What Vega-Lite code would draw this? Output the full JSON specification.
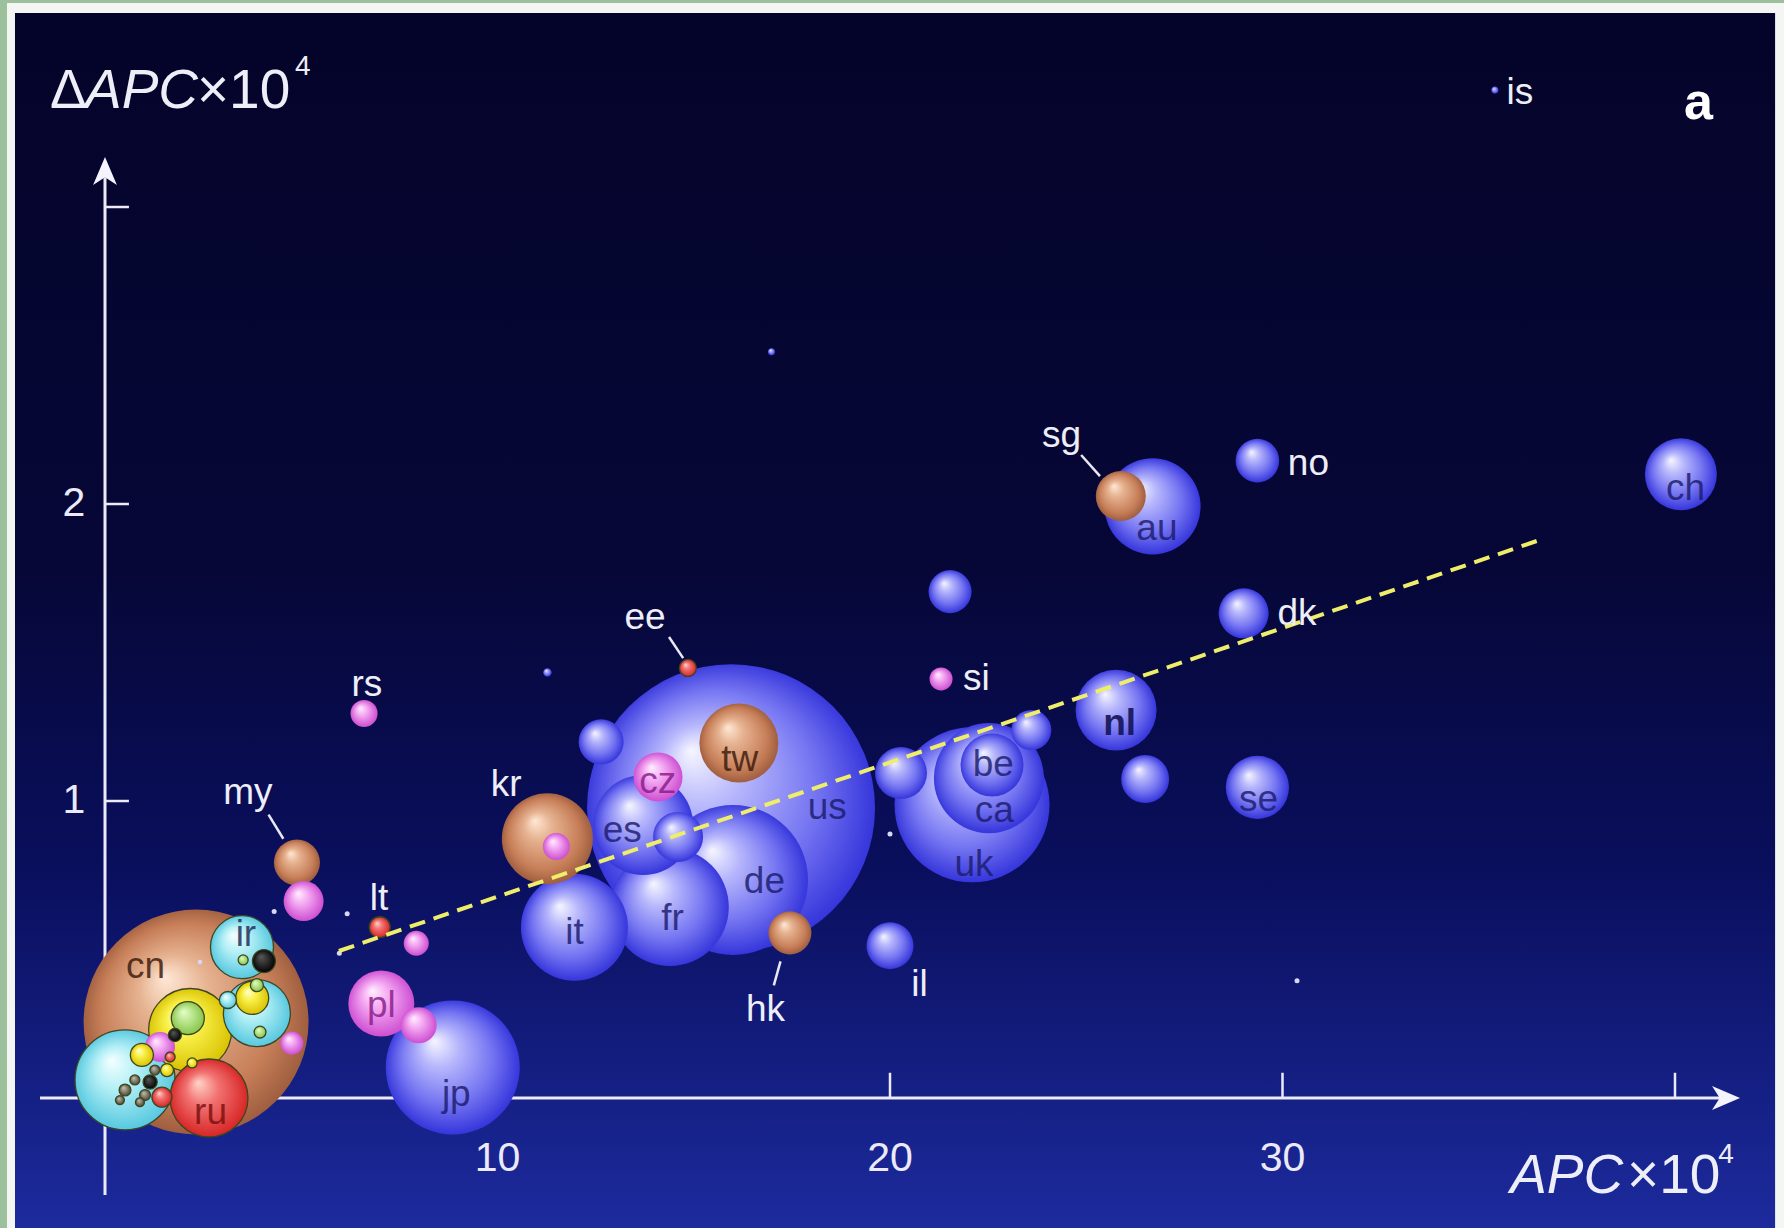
{
  "$schema": "https://vega.github.io/schema/vega-lite/v6.json",
  "width": 1784,
  "height": 1228,
  "autosize": {"type": "none"},
  "padding": 0,
  "background": "#9dc09c",
  "config": {"view": {"stroke": null}, "font": "Liberation Sans"},
  "datasets": {
    "bubbles": [
      {"c": "us", "g": "blue", "x": 15.95, "y": 0.976, "weight": 829.4},
      {"c": "uk", "g": "blue", "x": 22.09, "y": 0.987, "weight": 240.3},
      {"c": "de", "g": "blue", "x": 16.0, "y": 0.734, "weight": 225},
      {"c": "fr", "g": "blue", "x": 14.39, "y": 0.643, "weight": 139.2},
      {"c": "ca", "g": "blue", "x": 22.52, "y": 1.077, "weight": 121},
      {"c": "it", "g": "blue", "x": 11.96, "y": 0.575, "weight": 114.5},
      {"c": "jp", "g": "blue", "x": 8.86, "y": 0.103, "weight": 179.6},
      {"c": "es", "g": "blue", "x": 13.71, "y": 0.919, "weight": 100},
      {"c": "au", "g": "blue", "x": 26.69, "y": 1.992, "weight": 92.2},
      {"c": "nl", "g": "blue", "x": 25.76, "y": 1.306, "weight": 65.6},
      {"c": "ch", "g": "blue", "x": 40.15, "y": 2.1, "weight": 51.8},
      {"c": "be", "g": "blue", "x": 22.6, "y": 1.121, "weight": 39.7},
      {"c": "se", "g": "blue", "x": 29.36, "y": 1.046, "weight": 40},
      {"c": "", "g": "blue", "x": 20.28, "y": 1.094, "weight": 27},
      {"c": "dk", "g": "blue", "x": 29.01, "y": 1.632, "weight": 25},
      {"c": "", "g": "blue", "x": 14.6, "y": 0.879, "weight": 25},
      {"c": "", "g": "blue", "x": 26.5, "y": 1.074, "weight": 23},
      {"c": "no", "g": "blue", "x": 29.36, "y": 2.146, "weight": 19},
      {"c": "", "g": "blue", "x": 12.64, "y": 1.199, "weight": 20.3},
      {"c": "", "g": "blue", "x": 21.53, "y": 1.705, "weight": 18.5},
      {"c": "il", "g": "blue", "x": 20.0, "y": 0.513, "weight": 22.1},
      {"c": "", "g": "blue", "x": 23.6, "y": 1.239, "weight": 16},
      {"c": "", "g": "blue", "x": 11.27, "y": 1.433, "weight": 0.7},
      {"c": "", "g": "blue", "x": 16.98, "y": 2.513, "weight": 0.49},
      {"c": "is", "g": "blue", "x": 35.41, "y": 3.394, "weight": 0.49},
      {"c": "cn", "g": "brown", "x": 2.32, "y": 0.256, "weight": 506},
      {"c": "kr", "g": "brown", "x": 11.27, "y": 0.873, "weight": 82.8},
      {"c": "tw", "g": "brown", "x": 16.15, "y": 1.195, "weight": 62.4},
      {"c": "sg", "g": "brown", "x": 25.88, "y": 2.027, "weight": 25},
      {"c": "my", "g": "brown", "x": 4.89, "y": 0.793, "weight": 21.2},
      {"c": "hk", "g": "brown", "x": 17.45, "y": 0.556, "weight": 18.5},
      {"c": "pl", "g": "pink", "x": 7.04, "y": 0.318, "weight": 43.6},
      {"c": "", "g": "pink", "x": 7.99, "y": 0.245, "weight": 13},
      {"c": "cz", "g": "pink", "x": 14.09, "y": 1.081, "weight": 24},
      {"c": "", "g": "pink", "x": 5.06, "y": 0.663, "weight": 16},
      {"c": "rs", "g": "pink", "x": 6.6, "y": 1.295, "weight": 7.3},
      {"c": "si", "g": "pink", "x": 21.3, "y": 1.411, "weight": 5.3},
      {"c": "", "g": "pink", "x": 7.93, "y": 0.521, "weight": 6.25},
      {"c": "", "g": "pink", "x": 11.5, "y": 0.847, "weight": 7.3},
      {"c": "", "g": "pink", "x": 4.76, "y": 0.185, "weight": 5.3},
      {"c": "", "g": "pink", "x": 1.4, "y": 0.172, "weight": 9},
      {"c": "ru", "g": "red", "x": 2.65, "y": 0.0, "weight": 60.8},
      {"c": "ee", "g": "red", "x": 14.85, "y": 1.448, "weight": 2.9},
      {"c": "lt", "g": "red", "x": 7.0, "y": 0.575, "weight": 4.4},
      {"c": "", "g": "red", "x": 1.45, "y": 0.003, "weight": 4},
      {"c": "", "g": "red", "x": 1.66, "y": 0.138, "weight": 1},
      {"c": "", "g": "cyan", "x": 0.51, "y": 0.061, "weight": 100},
      {"c": "", "g": "cyan", "x": 3.87, "y": 0.286, "weight": 44.9},
      {"c": "ir", "g": "cyan", "x": 3.49, "y": 0.508, "weight": 39.7},
      {"c": "", "g": "cyan", "x": 3.13, "y": 0.33, "weight": 2.9},
      {"c": "", "g": "yellow", "x": 2.17, "y": 0.229, "weight": 68.9},
      {"c": "", "g": "yellow", "x": 3.75, "y": 0.337, "weight": 10.9},
      {"c": "", "g": "yellow", "x": 0.94, "y": 0.145, "weight": 5.3},
      {"c": "", "g": "yellow", "x": 1.58, "y": 0.094, "weight": 1.7},
      {"c": "", "g": "yellow", "x": 2.22, "y": 0.118, "weight": 1},
      {"c": "", "g": "green", "x": 2.11, "y": 0.269, "weight": 10.9},
      {"c": "", "g": "green", "x": 3.52, "y": 0.465, "weight": 1},
      {"c": "", "g": "green", "x": 3.87, "y": 0.38, "weight": 1.7},
      {"c": "", "g": "green", "x": 3.95, "y": 0.222, "weight": 1.4},
      {"c": "", "g": "black", "x": 4.05, "y": 0.461, "weight": 5.3},
      {"c": "", "g": "black", "x": 1.78, "y": 0.212, "weight": 1.7},
      {"c": "", "g": "black", "x": 1.15, "y": 0.054, "weight": 2},
      {"c": "", "g": "gray", "x": 0.51, "y": 0.027, "weight": 1.4},
      {"c": "", "g": "gray", "x": 0.76, "y": 0.061, "weight": 1},
      {"c": "", "g": "gray", "x": 1.02, "y": 0.01, "weight": 1.2},
      {"c": "", "g": "gray", "x": 0.38, "y": -0.007, "weight": 0.8},
      {"c": "", "g": "gray", "x": 0.89, "y": -0.014, "weight": 0.8},
      {"c": "", "g": "gray", "x": 1.27, "y": 0.094, "weight": 1},
      {"c": "", "g": "dot", "x": 4.31, "y": 0.628, "weight": 0.25},
      {"c": "", "g": "dot", "x": 6.17, "y": 0.62, "weight": 0.25},
      {"c": "", "g": "dot", "x": 5.97, "y": 0.487, "weight": 0.25},
      {"c": "", "g": "dot", "x": 20.0, "y": 0.889, "weight": 0.25},
      {"c": "", "g": "dot", "x": 30.37, "y": 0.395, "weight": 0.25},
      {"c": "", "g": "dot", "x": 2.42, "y": 0.458, "weight": 0.2}
    ],
    "labelsOut": [
      {"t": "is", "x": 36.05, "y": 3.384},
      {"t": "no", "x": 30.66, "y": 2.134},
      {"t": "dk", "x": 30.37, "y": 1.628},
      {"t": "si", "x": 22.2, "y": 1.41},
      {"t": "sg", "x": 24.37, "y": 2.23},
      {"t": "ee", "x": 13.76, "y": 1.617},
      {"t": "rs", "x": 6.67, "y": 1.39},
      {"t": "my", "x": 3.64, "y": 1.027},
      {"t": "kr", "x": 10.22, "y": 1.054},
      {"t": "lt", "x": 6.98, "y": 0.67},
      {"t": "hk", "x": 16.83, "y": 0.295},
      {"t": "il", "x": 20.75, "y": 0.379}
    ],
    "labelsIn": [
      {"t": "ch", "g": "blue", "x": 40.27, "y": 2.05},
      {"t": "au", "g": "blue", "x": 26.8, "y": 1.915},
      {"t": "nl", "g": "blue", "x": 25.85, "y": 1.26},
      {"t": "be", "g": "blue", "x": 22.63, "y": 1.122},
      {"t": "ca", "g": "blue", "x": 22.66, "y": 0.966},
      {"t": "uk", "g": "blue", "x": 22.14, "y": 0.785},
      {"t": "se", "g": "blue", "x": 29.39, "y": 1.004},
      {"t": "tw", "g": "brown", "x": 16.17, "y": 1.138},
      {"t": "cz", "g": "pink", "x": 14.08, "y": 1.065},
      {"t": "us", "g": "blue", "x": 18.4, "y": 0.977},
      {"t": "es", "g": "blue", "x": 13.18, "y": 0.9},
      {"t": "de", "g": "blue", "x": 16.8, "y": 0.728},
      {"t": "fr", "g": "blue", "x": 14.46, "y": 0.602},
      {"t": "it", "g": "blue", "x": 11.96, "y": 0.556},
      {"t": "jp", "g": "blue", "x": 8.95, "y": 0.011},
      {"t": "pl", "g": "pink", "x": 7.04, "y": 0.31},
      {"t": "ir", "g": "cyan", "x": 3.59, "y": 0.548},
      {"t": "cn", "g": "brown", "x": 1.03, "y": 0.441},
      {"t": "ru", "g": "red", "x": 2.69, "y": -0.05}
    ],
    "leaders": [
      {"x": 24.87, "y": 2.165, "x2": 25.35, "y2": 2.094},
      {"x": 14.37, "y": 1.552, "x2": 14.73, "y2": 1.481},
      {"x": 4.166, "y": 0.954, "x2": 4.543, "y2": 0.873},
      {"x": 17.21, "y": 0.46, "x2": 17.04, "y2": 0.379}
    ],
    "trend": [
      {"x": 5.96, "y": 0.495},
      {"x": 36.6, "y": 1.881}
    ],
    "xticks": [{"v": 10}, {"v": 20}, {"v": 30}, {"v": 40}],
    "yticks": [{"v": 1}, {"v": 2}, {"v": 3}],
    "titleMain": [
      {"t": "Δ", "x": -1.401, "y": 3.333, "italic": false},
      {"t": "APC", "x": -0.51, "y": 3.333, "italic": true},
      {"t": "×10", "x": 2.344, "y": 3.333, "italic": false},
      {"t": "APC", "x": 35.8, "y": -0.32, "italic": true},
      {"t": "×10", "x": 38.78, "y": -0.32, "italic": false}
    ],
    "titleSup": [
      {"t": "4", "x": 4.84, "y": 3.444},
      {"t": "4", "x": 41.1, "y": -0.219}
    ],
    "frame": [
      {"x": -2.497, "x2": 42.9, "y": 3.687, "y2": -0.5, "layer": "white"},
      {"x": -2.293, "x2": 42.55, "y": 3.653, "y2": -0.5, "layer": "panel"}
    ]
  },
  "layer": [
    {
      "data": {"name": "frame"},
      "transform": [{"filter": "datum.layer === 'white'"}],
      "mark": {"type": "rect", "color": "#f4f6f4"},
      "encoding": {
        "x": {"field": "x", "type": "quantitative", "scale": {"domain": [-2.675, 42.777], "nice": false, "zero": false}, "axis": null},
        "x2": {"field": "x2"},
        "y": {"field": "y", "type": "quantitative", "scale": {"domain": [-0.4377, 3.697], "nice": false, "zero": false}, "axis": null},
        "y2": {"field": "y2"}
      }
    },
    {
      "data": {"name": "frame"},
      "transform": [{"filter": "datum.layer === 'panel'"}],
      "mark": {"type": "rect", "color": {"gradient": "linear", "x1": 0, "y1": 0, "x2": 0, "y2": 1, "stops": [
        {"offset": 0, "color": "#04042a"},
        {"offset": 0.45, "color": "#060737"},
        {"offset": 0.7, "color": "#0a0f5e"},
        {"offset": 1, "color": "#1d2ca0"}
      ]}},
      "encoding": {
        "x": {"field": "x", "type": "quantitative", "scale": {"domain": [-2.675, 42.777], "nice": false, "zero": false}, "axis": null},
        "x2": {"field": "x2"},
        "y": {"field": "y", "type": "quantitative", "scale": {"domain": [-0.4377, 3.697], "nice": false, "zero": false}, "axis": null},
        "y2": {"field": "y2"}
      }
    },
    {
      "data": {"values": [{}]},
      "mark": {"type": "rule", "color": "#eceaf8", "strokeWidth": 3},
      "encoding": {
        "x": {"datum": -1.656, "type": "quantitative", "scale": {"domain": [-2.675, 42.777], "nice": false, "zero": false}, "axis": null},
        "x2": {"datum": 41.27},
        "y": {"datum": 0, "type": "quantitative", "scale": {"domain": [-0.4377, 3.697], "nice": false, "zero": false}, "axis": null}
      }
    },
    {
      "data": {"values": [{}]},
      "mark": {"type": "rule", "color": "#eceaf8", "strokeWidth": 3},
      "encoding": {
        "x": {"datum": 0, "type": "quantitative", "scale": {"domain": [-2.675, 42.777], "nice": false, "zero": false}, "axis": null},
        "y": {"datum": -0.327, "type": "quantitative", "scale": {"domain": [-0.4377, 3.697], "nice": false, "zero": false}, "axis": null},
        "y2": {"datum": 3.1}
      }
    },
    {
      "data": {"name": "xticks"},
      "mark": {"type": "rule", "color": "#eceaf8", "strokeWidth": 2.5},
      "encoding": {
        "x": {"field": "v", "type": "quantitative", "scale": {"domain": [-2.675, 42.777], "nice": false, "zero": false}, "axis": null},
        "y": {"datum": 0, "type": "quantitative", "scale": {"domain": [-0.4377, 3.697], "nice": false, "zero": false}, "axis": null},
        "y2": {"datum": 0.085}
      }
    },
    {
      "data": {"name": "yticks"},
      "mark": {"type": "rule", "color": "#eceaf8", "strokeWidth": 2.5},
      "encoding": {
        "y": {"field": "v", "type": "quantitative", "scale": {"domain": [-0.4377, 3.697], "nice": false, "zero": false}, "axis": null},
        "x": {"datum": 0, "type": "quantitative", "scale": {"domain": [-2.675, 42.777], "nice": false, "zero": false}, "axis": null},
        "x2": {"datum": 0.61}
      }
    },
    {
      "data": {"name": "xticks"},
      "transform": [{"filter": "datum.v < 40"}],
      "mark": {"type": "text", "color": "#eceaf8", "fontSize": 41, "align": "center", "baseline": "middle"},
      "encoding": {
        "x": {"field": "v", "type": "quantitative", "scale": {"domain": [-2.675, 42.777], "nice": false, "zero": false}, "axis": null},
        "y": {"datum": -0.205, "type": "quantitative", "scale": {"domain": [-0.4377, 3.697], "nice": false, "zero": false}, "axis": null},
        "text": {"field": "v", "type": "quantitative"}
      }
    },
    {
      "data": {"name": "yticks"},
      "transform": [{"filter": "datum.v < 3"}],
      "mark": {"type": "text", "color": "#eceaf8", "fontSize": 41, "align": "center", "baseline": "middle"},
      "encoding": {
        "y": {"field": "v", "type": "quantitative", "scale": {"domain": [-0.4377, 3.697], "nice": false, "zero": false}, "axis": null},
        "x": {"datum": -0.79, "type": "quantitative", "scale": {"domain": [-2.675, 42.777], "nice": false, "zero": false}, "axis": null},
        "text": {"field": "v", "type": "quantitative"}
      }
    },
    {
      "data": {"values": [{}]},
      "mark": {"type": "point", "filled": true, "opacity": 1, "color": "#f4f4ff", "size": 784, "shape": "M1,0L-1,-0.85L-0.45,0L-1,0.85Z"},
      "encoding": {
        "x": {"datum": 41.3, "type": "quantitative", "scale": {"domain": [-2.675, 42.777], "nice": false, "zero": false}, "axis": null},
        "y": {"datum": 0, "type": "quantitative", "scale": {"domain": [-0.4377, 3.697], "nice": false, "zero": false}, "axis": null}
      }
    },
    {
      "data": {"values": [{}]},
      "mark": {"type": "point", "filled": true, "opacity": 1, "color": "#f4f4ff", "size": 784, "shape": "M0,-1L0.85,1L0,0.45L-0.85,1Z"},
      "encoding": {
        "x": {"datum": 0, "type": "quantitative", "scale": {"domain": [-2.675, 42.777], "nice": false, "zero": false}, "axis": null},
        "y": {"datum": 3.121, "type": "quantitative", "scale": {"domain": [-0.4377, 3.697], "nice": false, "zero": false}, "axis": null}
      }
    },
    {
      "data": {"name": "leaders"},
      "mark": {"type": "rule", "color": "#e8e8f4", "strokeWidth": 2.5},
      "encoding": {
        "x": {"field": "x", "type": "quantitative", "scale": {"domain": [-2.675, 42.777], "nice": false, "zero": false}, "axis": null},
        "y": {"field": "y", "type": "quantitative", "scale": {"domain": [-0.4377, 3.697], "nice": false, "zero": false}, "axis": null},
        "x2": {"field": "x2"},
        "y2": {"field": "y2"}
      }
    },
    {
      "data": {"name": "bubbles"},
      "mark": {"type": "point", "shape": "circle", "filled": true, "opacity": 1, "strokeWidth": 1.3},
      "encoding": {
        "x": {"field": "x", "type": "quantitative", "scale": {"domain": [-2.675, 42.777], "nice": false, "zero": false}, "axis": null},
        "y": {"field": "y", "type": "quantitative", "scale": {"domain": [-0.4377, 3.697], "nice": false, "zero": false}, "axis": null},
        "size": {"field": "weight", "type": "quantitative", "scale": {"type": "linear", "domain": [0, 900], "range": [0, 90000], "zero": true}, "legend": null},
        "order": {"field": "weight", "sort": "descending"},
        "fill": {
          "condition": [
            {"test": "datum.g === 'blue'", "value": {"gradient": "radial", "x1": 0.36, "y1": 0.3, "r1": 0, "x2": 0.5, "y2": 0.5, "r2": 0.52, "stops": [
              {"offset": 0, "color": "#f6f6ff"}, {"offset": 0.28, "color": "#b6b6fc"}, {"offset": 0.65, "color": "#7676f2"}, {"offset": 1, "color": "#3030da"}]}},
            {"test": "datum.g === 'brown'", "value": {"gradient": "radial", "x1": 0.36, "y1": 0.3, "r1": 0, "x2": 0.5, "y2": 0.5, "r2": 0.52, "stops": [
              {"offset": 0, "color": "#ffe8d6"}, {"offset": 0.3, "color": "#e6b290"}, {"offset": 0.75, "color": "#c67e58"}, {"offset": 1, "color": "#9a5a3c"}]}},
            {"test": "datum.g === 'pink'", "value": {"gradient": "radial", "x1": 0.36, "y1": 0.3, "r1": 0, "x2": 0.5, "y2": 0.5, "r2": 0.52, "stops": [
              {"offset": 0, "color": "#fff0ff"}, {"offset": 0.35, "color": "#f6b0f4"}, {"offset": 1, "color": "#cc4ad0"}]}},
            {"test": "datum.g === 'cyan'", "value": {"gradient": "radial", "x1": 0.36, "y1": 0.3, "r1": 0, "x2": 0.5, "y2": 0.5, "r2": 0.52, "stops": [
              {"offset": 0, "color": "#f4ffff"}, {"offset": 0.4, "color": "#b4f0f6"}, {"offset": 1, "color": "#52c6de"}]}},
            {"test": "datum.g === 'yellow'", "value": {"gradient": "radial", "x1": 0.36, "y1": 0.3, "r1": 0, "x2": 0.5, "y2": 0.5, "r2": 0.52, "stops": [
              {"offset": 0, "color": "#ffffd8"}, {"offset": 0.4, "color": "#f8f048"}, {"offset": 1, "color": "#d8c000"}]}},
            {"test": "datum.g === 'red'", "value": {"gradient": "radial", "x1": 0.36, "y1": 0.3, "r1": 0, "x2": 0.5, "y2": 0.5, "r2": 0.52, "stops": [
              {"offset": 0, "color": "#ffd4c8"}, {"offset": 0.4, "color": "#f27272"}, {"offset": 1, "color": "#d62222"}]}},
            {"test": "datum.g === 'green'", "value": {"gradient": "radial", "x1": 0.36, "y1": 0.3, "r1": 0, "x2": 0.5, "y2": 0.5, "r2": 0.52, "stops": [
              {"offset": 0, "color": "#e6ffc8"}, {"offset": 1, "color": "#84c446"}]}},
            {"test": "datum.g === 'black'", "value": {"gradient": "radial", "x1": 0.36, "y1": 0.3, "r1": 0, "x2": 0.5, "y2": 0.5, "r2": 0.52, "stops": [
              {"offset": 0, "color": "#5a5a5a"}, {"offset": 1, "color": "#000000"}]}},
            {"test": "datum.g === 'gray'", "value": {"gradient": "radial", "x1": 0.36, "y1": 0.3, "r1": 0, "x2": 0.5, "y2": 0.5, "r2": 0.52, "stops": [
              {"offset": 0, "color": "#c8c4b0"}, {"offset": 1, "color": "#4c4434"}]}}
          ],
          "value": "#d8d8f4"
        },
        "stroke": {
          "condition": {"test": "indexof(['cyan','yellow','green','gray','black','red'], datum.g) >= 0", "value": "#3c4620"},
          "value": null
        }
      }
    },
    {
      "data": {"name": "trend"},
      "mark": {"type": "line", "color": "#efee6a", "strokeWidth": 4, "strokeDash": [16, 9]},
      "encoding": {
        "x": {"field": "x", "type": "quantitative", "scale": {"domain": [-2.675, 42.777], "nice": false, "zero": false}, "axis": null},
        "y": {"field": "y", "type": "quantitative", "scale": {"domain": [-0.4377, 3.697], "nice": false, "zero": false}, "axis": null}
      }
    },
    {
      "data": {"name": "labelsOut"},
      "mark": {"type": "text", "color": "#eeeef8", "fontSize": 37, "align": "center", "baseline": "middle"},
      "encoding": {
        "x": {"field": "x", "type": "quantitative", "scale": {"domain": [-2.675, 42.777], "nice": false, "zero": false}, "axis": null},
        "y": {"field": "y", "type": "quantitative", "scale": {"domain": [-0.4377, 3.697], "nice": false, "zero": false}, "axis": null},
        "text": {"field": "t"}
      }
    },
    {
      "data": {"name": "labelsIn"},
      "transform": [{"filter": "datum.t !== 'nl'"}],
      "mark": {"type": "text", "fontSize": 37, "align": "center", "baseline": "middle", "opacity": 0.82},
      "encoding": {
        "x": {"field": "x", "type": "quantitative", "scale": {"domain": [-2.675, 42.777], "nice": false, "zero": false}, "axis": null},
        "y": {"field": "y", "type": "quantitative", "scale": {"domain": [-0.4377, 3.697], "nice": false, "zero": false}, "axis": null},
        "text": {"field": "t"},
        "color": {"field": "g", "type": "nominal", "scale": {"domain": ["blue", "brown", "pink", "cyan", "red"], "range": ["#1c1c6e", "#3a1a0c", "#8a1c8a", "#1e2a56", "#7a1010"]}, "legend": null}
      }
    },
    {
      "data": {"name": "labelsIn"},
      "transform": [{"filter": "datum.t === 'nl'"}],
      "mark": {"type": "text", "fontSize": 37, "fontWeight": "bold", "align": "center", "baseline": "middle", "color": "#14145a", "opacity": 0.9},
      "encoding": {
        "x": {"field": "x", "type": "quantitative", "scale": {"domain": [-2.675, 42.777], "nice": false, "zero": false}, "axis": null},
        "y": {"field": "y", "type": "quantitative", "scale": {"domain": [-0.4377, 3.697], "nice": false, "zero": false}, "axis": null},
        "text": {"field": "t"}
      }
    },
    {
      "data": {"name": "titleMain"},
      "transform": [{"filter": "!datum.italic"}],
      "mark": {"type": "text", "color": "#eeeef8", "fontSize": 55, "align": "left", "baseline": "alphabetic"},
      "encoding": {
        "x": {"field": "x", "type": "quantitative", "scale": {"domain": [-2.675, 42.777], "nice": false, "zero": false}, "axis": null},
        "y": {"field": "y", "type": "quantitative", "scale": {"domain": [-0.4377, 3.697], "nice": false, "zero": false}, "axis": null},
        "text": {"field": "t"}
      }
    },
    {
      "data": {"name": "titleMain"},
      "transform": [{"filter": "datum.italic"}],
      "mark": {"type": "text", "color": "#eeeef8", "fontSize": 55, "fontStyle": "italic", "align": "left", "baseline": "alphabetic"},
      "encoding": {
        "x": {"field": "x", "type": "quantitative", "scale": {"domain": [-2.675, 42.777], "nice": false, "zero": false}, "axis": null},
        "y": {"field": "y", "type": "quantitative", "scale": {"domain": [-0.4377, 3.697], "nice": false, "zero": false}, "axis": null},
        "text": {"field": "t"}
      }
    },
    {
      "data": {"name": "titleSup"},
      "mark": {"type": "text", "color": "#eeeef8", "fontSize": 28, "align": "left", "baseline": "alphabetic"},
      "encoding": {
        "x": {"field": "x", "type": "quantitative", "scale": {"domain": [-2.675, 42.777], "nice": false, "zero": false}, "axis": null},
        "y": {"field": "y", "type": "quantitative", "scale": {"domain": [-0.4377, 3.697], "nice": false, "zero": false}, "axis": null},
        "text": {"field": "t"}
      }
    },
    {
      "data": {"values": [{"t": "a"}]},
      "mark": {"type": "text", "color": "#ffffff", "fontSize": 52, "fontWeight": "bold", "align": "center", "baseline": "alphabetic"},
      "encoding": {
        "x": {"datum": 40.6, "type": "quantitative", "scale": {"domain": [-2.675, 42.777], "nice": false, "zero": false}, "axis": null},
        "y": {"datum": 3.295, "type": "quantitative", "scale": {"domain": [-0.4377, 3.697], "nice": false, "zero": false}, "axis": null},
        "text": {"field": "t"}
      }
    }
  ]
}
